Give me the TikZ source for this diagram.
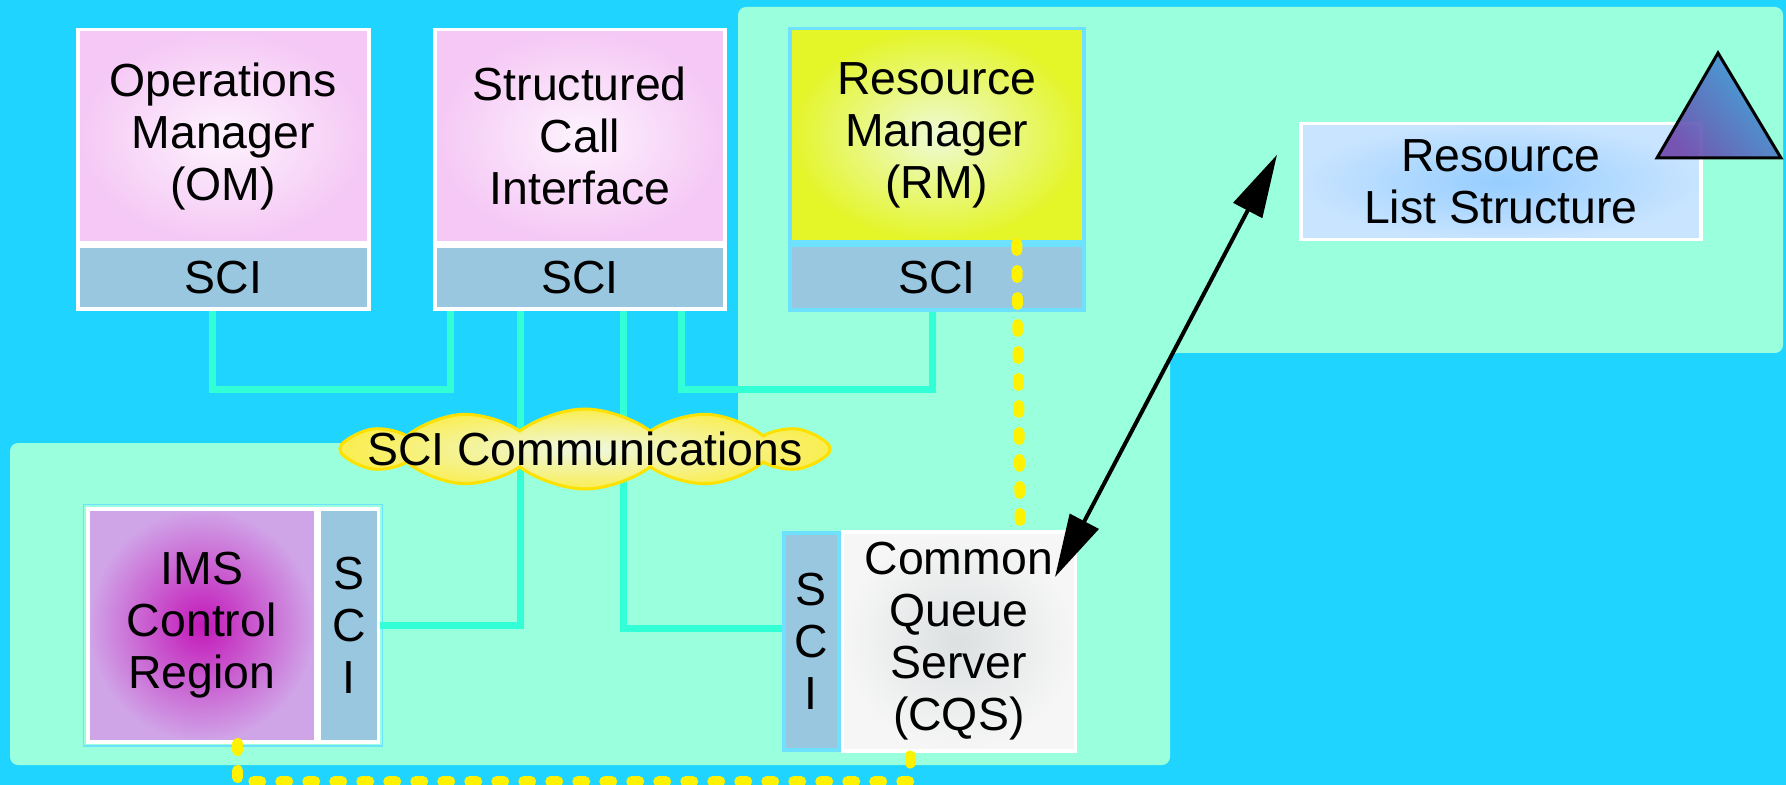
\documentclass[tikz,border=0pt]{standalone}
\usepackage{fontspec}
\setmainfont{Liberation Sans}
\usepackage{xcolor}
\usepackage{tikz}
\usetikzlibrary{positioning,shapes.symbols,arrows.meta}
\definecolor{skyback}{RGB}{31,212,255}
\definecolor{mintzone}{RGB}{153,255,220}
\definecolor{wirecyan}{RGB}{51,255,214}
\definecolor{scistrip}{RGB}{153,199,224}
\definecolor{rimcyan}{RGB}{110,225,255}
\definecolor{pinkedge}{RGB}{245,200,245}
\definecolor{pinkmid}{RGB}{253,243,253}
\definecolor{rmedge}{RGB}{228,245,40}
\definecolor{rmmid}{RGB}{238,250,215}
\definecolor{rlsedge}{RGB}{200,228,255}
\definecolor{rlsmid}{RGB}{150,205,255}
\definecolor{imsmid}{RGB}{195,25,185}
\definecolor{imsedge}{RGB}{208,165,232}
\definecolor{cqsmid}{RGB}{220,224,225}
\definecolor{cqsedge}{RGB}{246,246,246}
\definecolor{cloudmid}{RGB}{238,248,225}
\definecolor{cloudedge}{RGB}{250,238,80}
\definecolor{cloudrim}{RGB}{255,225,0}
\definecolor{tripurple}{RGB}{110,70,170}
\definecolor{triblue}{RGB}{30,195,245}
\definecolor{tricyan}{RGB}{55,160,220}

\begin{document}
\begin{tikzpicture}[x=0.1mm,y=-0.1mm,>=latex,font=\fontsize{13.2}{14.8}\selectfont]
\tikzstyle{unit}=[rectangle,draw=white,line width=0.35mm,align=center,inner sep=0pt,shading=radial]
\tikzstyle{sci}=[rectangle,draw=white,line width=0.35mm,fill=scistrip,align=center,inner sep=0pt]
\tikzstyle{wire}=[wirecyan,line width=0.7mm]
\tikzstyle{dots}=[yellow,line width=1.1mm,line cap=round,dash pattern=on 0.7mm off 2mm]
\useasboundingbox (0,0) rectangle (1786,785);
\fill[skyback] (0,0) rectangle (1786,785);
\fill[mintzone,rounded corners=0.8mm] (10,443) -- (738,443) -- (738,7) -- (1783,7) -- (1783,353)
  -- (1170,353) -- (1170,765) -- (10,765) -- cycle;

\node[unit,anchor=north west,minimum width=29.1mm,minimum height=21.3mm,inner color=pinkmid,outer color=pinkedge] (om) at (76,28) {Operations\\Manager\\(OM)};
\node[sci,below=0pt of om,minimum width=29.1mm,minimum height=6.3mm] (omsci) {SCI};
\node[unit,anchor=north west,minimum width=29mm,minimum height=21.3mm,inner color=pinkmid,outer color=pinkedge] (ci) at (433,28) {Structured\\Call\\Interface};
\node[sci,below=0pt of ci,minimum width=29mm,minimum height=6.3mm] (cisci) {SCI};
\node[unit,draw=rimcyan,anchor=north west,minimum width=29.4mm,minimum height=21.3mm,inner color=rmmid,outer color=rmedge] (rm) at (788,27) {Resource\\Manager\\(RM)};
\node[sci,draw=rimcyan,below=0pt of rm,minimum width=29.4mm,minimum height=6.5mm] (rmsci) {SCI};
\node[unit,anchor=north west,minimum width=40mm,minimum height=11.6mm,inner color=rlsmid,outer color=rlsedge] (rls) at (1299,122) {Resource\\List Structure};

\node[unit,anchor=north west,minimum width=22.8mm,minimum height=23.3mm,inner color=imsmid,outer color=imsedge] (ims) at (86,507) {IMS\\Control\\Region};
\node[sci,right=0pt of ims,minimum width=5.9mm,minimum height=23.3mm] (imssci) {S\\C\\I};
\draw[rimcyan,line width=0.15mm] ([shift={(-0.25mm,0.25mm)}]ims.north west) rectangle ([shift={(0.25mm,-0.25mm)}]imssci.south east);
\node[sci,draw=rimcyan,anchor=north west,minimum width=5.5mm,minimum height=21.7mm] (cqssci) at (782,531) {S\\C\\I};
\node[unit,right=0pt of cqssci,minimum width=23.3mm,minimum height=21.9mm,inner color=cqsmid,outer color=cqsedge] (cqs) {Common\\Queue\\Server\\(CQS)};

\draw[wire] ([xshift=-1.05mm]omsci.south) |- ([xshift=-12.9mm,yshift=-7.9mm]cisci.south) -- ([xshift=-12.9mm]cisci.south);
\draw[wire] ([xshift=-5.95mm]cisci.south) |- (imssci.east);
\draw[wire] ([xshift=4.35mm]cisci.south) |- ([yshift=1.3mm]cqssci.west);
\draw[wire] ([xshift=10.2mm]cisci.south) |- ([xshift=-0.4mm,yshift=-7.8mm]rmsci.south) -- ([xshift=-0.4mm]rmsci.south);

\draw[dots] ([xshift=8mm]rm.south) -- ([xshift=6.15mm]cqs.north);
\draw[dots] ([xshift=3.6mm]ims.south) -- ++(0,-3.8mm) -| ([xshift=-4.85mm]cqs.south);

\node[cloud,cloud puffs=12,cloud puff arc=75,cloud ignores aspect,minimum width=49mm,minimum height=8mm,
  draw=cloudrim,line width=0.3mm,shading=radial,inner color=cloudmid,outer color=cloudedge,inner sep=0pt] (comm) at (585,449)
  {\raisebox{-0.5mm}{\makebox[0pt]{SCI Communications}}};

\shade[draw=black,line width=0.3mm,fill opacity=0.9,left color=tripurple,middle color=triblue,right color=tricyan,shading angle=130]
  (1718,53) -- (1657,158) -- (1781,158) -- cycle;

\draw[{Triangle[length=6.3mm,width=3.2mm]}-{Triangle[length=6.3mm,width=3.2mm]},line width=0.4mm]
  ([xshift=-2.2mm,yshift=2.7mm]rls.west) -- ([xshift=-2.2mm,yshift=-4.7mm]cqs.north east);
\end{tikzpicture}
\end{document}
